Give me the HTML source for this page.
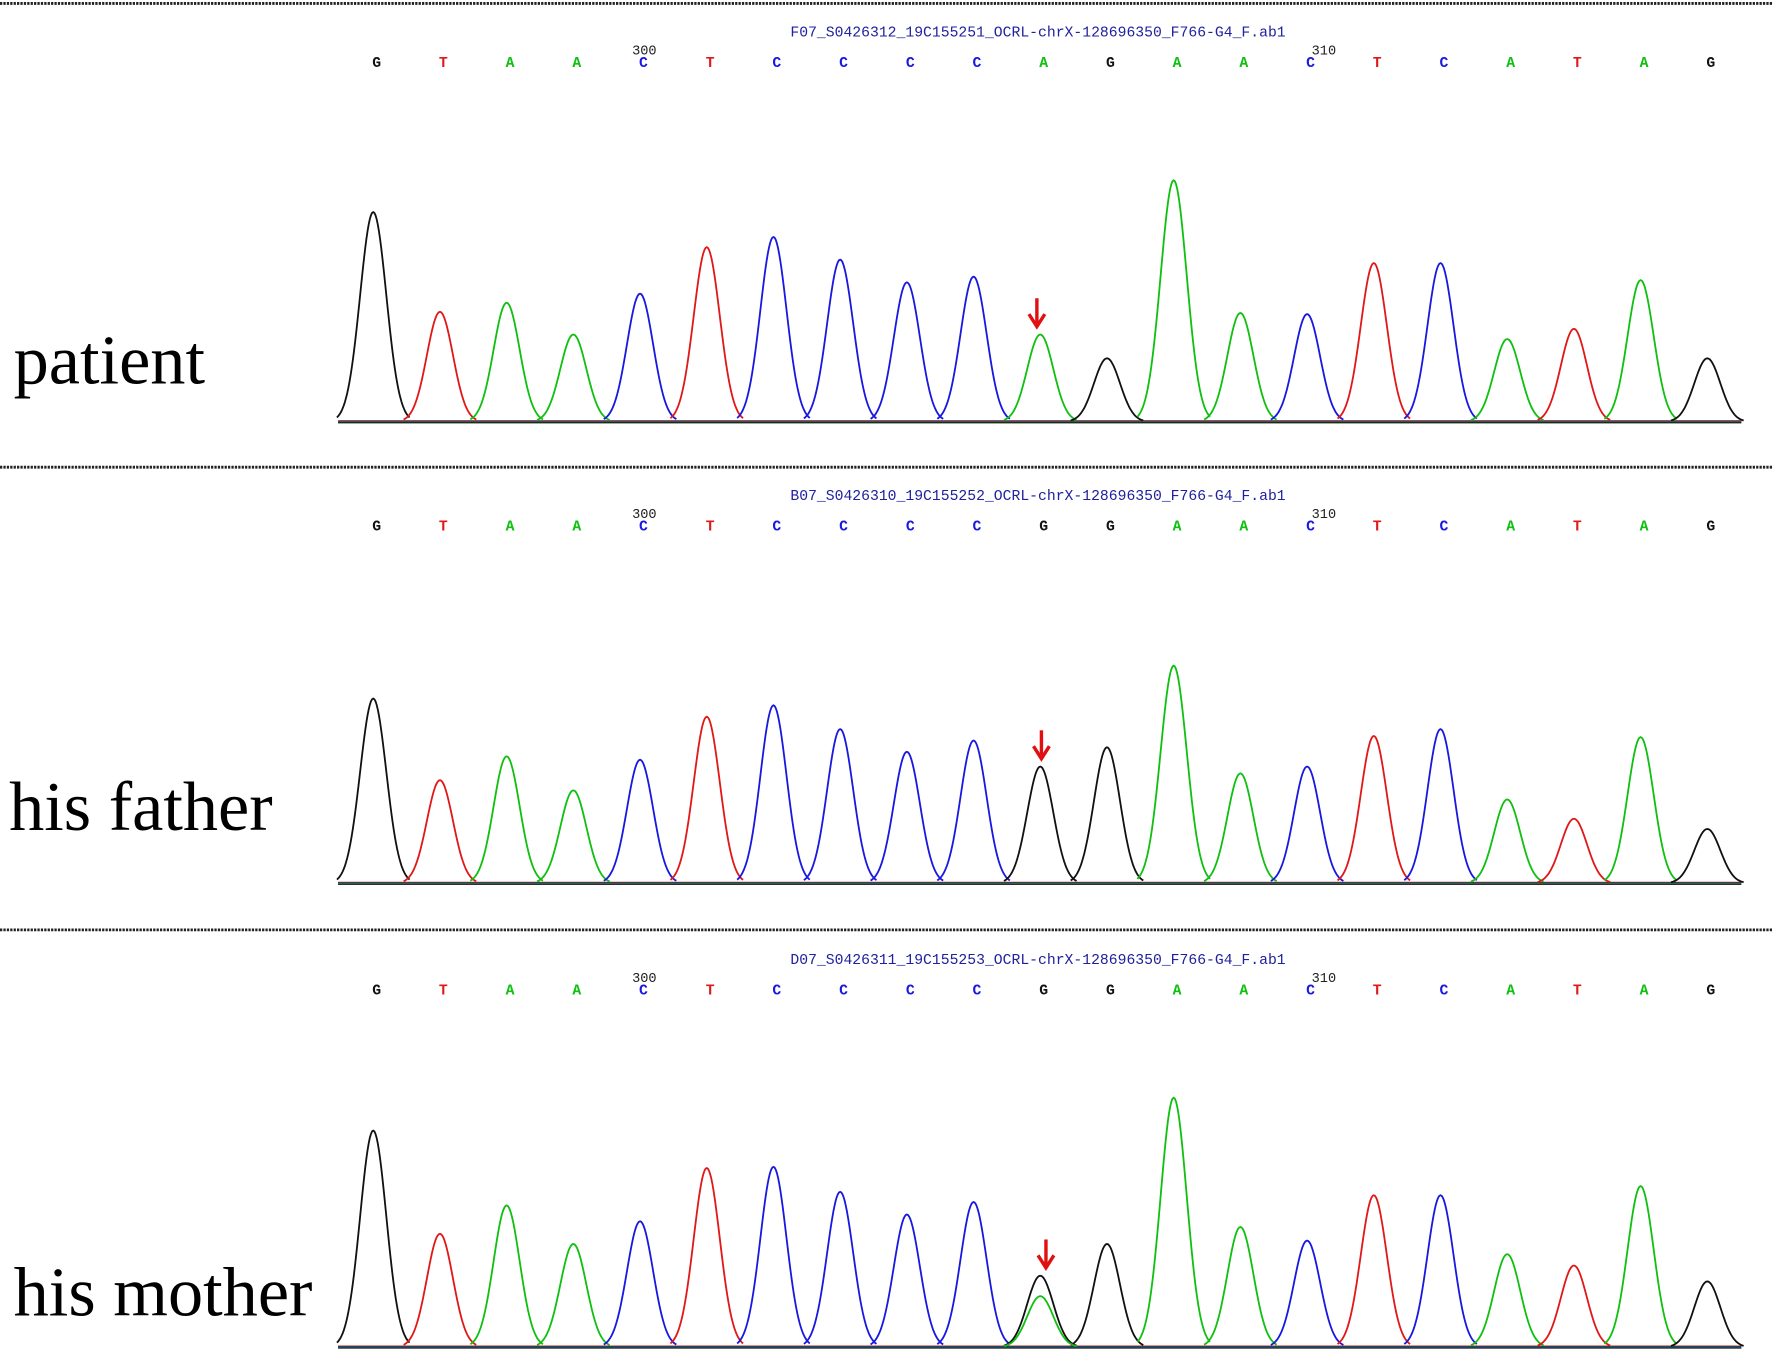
<!DOCTYPE html>
<html><head><meta charset="utf-8"><style>
html,body{margin:0;padding:0;background:#fff;width:1772px;height:1354px;overflow:hidden}
svg{display:block}
</style></head><body>
<svg id="chart" width="1772" height="1354" viewBox="0 0 1562 1194" preserveAspectRatio="none" xmlns="http://www.w3.org/2000/svg"></svg>
<script>
const bases = ["G","T","A","A","C","T","C","C","C","C","A","G","A","A","C","T","C","A","T","A","G"];
const basesParent = ["G","T","A","A","C","T","C","C","C","C","G","G","A","A","C","T","C","A","T","A","G"];
const titles = ["F07_S0426312_19C155251_OCRL-chrX-128696350_F766-G4_F.ab1","B07_S0426310_19C155252_OCRL-chrX-128696350_F766-G4_F.ab1","D07_S0426311_19C155253_OCRL-chrX-128696350_F766-G4_F.ab1"];
const labels = ["patient","his father","his mother"];
const heightsPatient = [185,97,105,77,113,154,163,143,123,128,77,56,213,96,95,140,140,73,82,125,56];
const heightsFather = [163,91,112,82,109,147,157,136,116,126,103,120,192,97,103,130,136,74,57,129,48];
const heightsMother = [191,100,125,91,111,158,159,137,117,128,63,91,220,106,94,134,134,82,72,142,58];
const motherSecondary = {index:10, base:"A", height:45};
const mutIndex = 10;

const NS="http://www.w3.org/2000/svg";
const svg=document.getElementById('chart');
const col={A:"#10c010",C:"#1818e0",G:"#111",T:"#e01818"};
function el(t,a,p){const e=document.createElementNS(NS,t);for(const k in a)e.setAttribute(k,a[k]);(p||svg).appendChild(e);return e;}
function xPos(i){return 329+i*58.8;}
const panels=[{top:0,base:372,h:heightsPatient,s:bases,lx:12,ly:338},{top:409,base:779,h:heightsFather,s:basesParent,lx:8,ly:732},{top:818,base:1188,h:heightsMother,s:basesParent,lx:12,ly:1160}];
[3,412,820].forEach((y,i)=>{const l=el('line',{x1:0,x2:1562,y1:y,y2:y,stroke:'#222','stroke-width':2.5,'stroke-dasharray':'2 1'});

});
function peak(g,x,h,base,c){let d="";for(let dx=-32;dx<=32;dx+=1){const y=base-h*Math.exp(-(dx*dx)/(2*11.5*11.5));d+=(dx==-32?"M":"L")+(x+dx)+" "+y.toFixed(1);}
const p=el('path',{d:d,fill:'none',stroke:c,'stroke-width':1.6},g);

}
panels.forEach((P,pi)=>{
 const g=el('g',{});
 
 
 const t=el('text',{x:915,y:P.top+32,'text-anchor':'middle','font-family':'Liberation Mono, monospace','font-size':13,fill:'#2020a0'},g);t.textContent=titles[pi];
 
 
 [[568,"300"],[1167,"310"]].forEach(([x,s])=>{const n=el('text',{x:x,y:P.top+48,'text-anchor':'middle','font-family':'Liberation Mono, monospace','font-size':12,fill:'#222'},g);n.textContent=s;
 
 });
 P.s.forEach((b,i)=>{const tx=el('text',{x:xPos(i)+3,y:P.top+59,'text-anchor':'middle','font-family':'Liberation Mono, monospace','font-size':13,'font-weight':'bold',fill:col[b]},g);tx.textContent=b;
 
 });
 ['#d02020','#2020d0','#10a010','#111'].forEach((c,k)=>{const b=el('line',{x1:298,x2:1535,y1:P.base-1+k*0.6,y2:P.base-1+k*0.6,stroke:c,'stroke-width':1},g);
 
 });
 P.s.forEach((b,i)=>{peak(g,xPos(i),P.h[i],P.base,col[b]);});
 if(pi==2)peak(g,xPos(motherSecondary.index),motherSecondary.height,P.base,col[motherSecondary.base]);
 const ax=xPos(mutIndex)+(pi==0?-3:pi==1?1:5);const ay=P.base-P.h[mutIndex]-32;
 const a=el('g',{},g);
 
 
 el('line',{x1:ax,x2:ax,y1:ay,y2:ay+22,stroke:'#e01010','stroke-width':3},a);
 el('path',{d:`M${ax-7} ${ay+14} L${ax} ${ay+25} L${ax+7} ${ay+14}`,fill:'none',stroke:'#e01010','stroke-width':3},a);
 const lb=el('text',{x:P.lx,y:P.ly,'font-family':'Liberation Serif, serif','font-size':62,fill:'#000'},g);lb.textContent=labels[pi];
 
 
});
</script>
</body></html>
